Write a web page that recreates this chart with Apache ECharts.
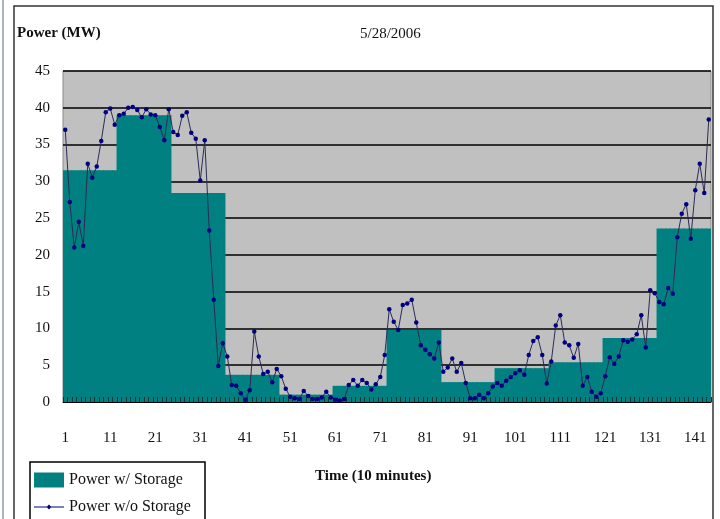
<!DOCTYPE html>
<html>
<head>
<meta charset="utf-8">
<script src="https://cdn.jsdelivr.net/npm/echarts@6/dist/echarts.min.js"></script>
<style>
html, body { margin: 0; padding: 0; background: #fff; }
#main { width: 720px; height: 519px; }
</style>
</head>
<body>
<div id="main"></div>
<script>
// time steps 1..144 (10 minutes each)
var steps = [];
for (var i = 1; i <= 144; i++) steps.push(String(i));

// 2-hour block values with storage (12 steps per block)
var storageBlocks = [31.5, 39, 28.4, 3.7, 1.0, 2.2, 9.8, 2.7, 4.6, 5.4, 8.7, 23.6];

// raw power without storage
var noStorage = [
    37, 27.2, 21, 24.5, 21.2, 32.4, 30.5, 32, 35.5, 39.4, 39.9, 37.7,
    39, 39.2, 40, 40.1, 39.7, 38.7, 39.8, 39.1, 39, 37.4, 35.6, 39.8,
    36.7, 36.3, 38.9, 39.4, 36.6, 35.8, 30.1, 35.6, 23.3, 13.9, 4.9, 8.0,
    6.2, 2.3, 2.2, 1.2, 0.3, 1.6, 9.6, 6.2, 3.8, 4.1, 2.7, 4.5,
    3.5, 1.8, 0.7, 0.5, 0.4, 1.5, 0.8, 0.4, 0.4, 0.6, 1.4, 0.6,
    0.3, 0.2, 0.4, 2.3, 3.0, 2.2, 3.0, 2.6, 1.7, 2.4, 3.4, 6.4,
    12.6, 10.9, 9.8, 13.2, 13.4, 13.9, 10.8, 7.7, 7.1, 6.5, 5.9, 8.1,
    4.1, 4.7, 5.9, 4.1, 5.3, 2.6, 0.5, 0.5, 1.0, 0.5, 1.2, 2.1,
    2.6, 2.2, 2.9, 3.4, 3.9, 4.3, 3.7, 6.4, 8.3, 8.8, 6.4, 2.5,
    5.5, 10.4, 11.8, 8.1, 7.7, 6.0, 7.9, 2.2, 3.4, 1.4, 0.7, 1.2,
    3.5, 6.1, 5.2, 6.2, 8.4, 8.2, 8.5, 9.2, 11.8, 7.4, 15.2, 14.8,
    13.6, 13.3, 15.5, 14.7, 22.4, 25.6, 26.9, 22.2, 28.8, 32.4, 28.4, 38.4
];

var withStorage = [];
for (var k = 0; k < steps.length; k++) {
    withStorage.push(storageBlocks[Math.floor(k / 12)]);
}

var serif = '"Liberation Serif", "DejaVu Serif", serif';

var myChart = echarts.init(document.getElementById('main'));

var option = {
    backgroundColor: '#fff',
    animation: false,
    textStyle: { fontFamily: serif },
    grid: {
        left: 63,
        right: 9,
        top: 71,
        bottom: 117,
        show: true,
        backgroundColor: '#c0c0c0',
        borderColor: '#8a8a8a',
        borderWidth: 1
    },
    graphic: [
        { type: 'line', shape: { x1: 3, y1: 0, x2: 3, y2: 519 }, style: { stroke: '#aab4c8', lineWidth: 2 } },
        { type: 'rect', shape: { x: 14, y: 6, width: 699, height: 520 }, style: { fill: null, stroke: '#333', lineWidth: 1.5 } },
        // legend frame (runs off the bottom edge like the source)
        { type: 'rect', shape: { x: 30, y: 462, width: 175, height: 70 }, style: { fill: null, stroke: '#000', lineWidth: 1.5 } },
        { type: 'text', left: 17, top: 26, style: { text: 'Power (MW)', font: 'bold 15px ' + serif, fill: '#111' } },
        { type: 'text', left: 360, top: 27, style: { text: '5/28/2006', font: '15px ' + serif, fill: '#111' } },
        { type: 'text', left: 315, top: 469, style: { text: 'Time (10 minutes)', font: 'bold 15px ' + serif, fill: '#111' } }
    ],
    legend: {
        orient: 'vertical',
        left: 30,
        top: 462,
        padding: [10, 6, 2, 4],
        itemGap: 11,
        itemWidth: 30,
        itemHeight: 15,
        textStyle: { fontFamily: serif, fontSize: 16, color: '#111' },
        data: [
            { name: 'Power w/ Storage', icon: 'rect' },
            {
                name: 'Power w/o Storage',
                icon: 'path://M0,7 L30,7 L30,8.2 L0,8.2 Z M12.6,7.6 L15,5.2 L17.4,7.6 L15,10 Z',
                itemStyle: { color: '#000080' }
            }
        ]
    },
    xAxis: {
        type: 'category',
        data: steps,
        boundaryGap: true,
        z: 5,
        axisLine: { lineStyle: { color: '#000', width: 1 } },
        axisTick: { show: true, interval: 0, inside: true, length: 5, lineStyle: { color: '#153535' } },
        axisLabel: { interval: 9, margin: 29, fontSize: 15, color: '#111', fontFamily: serif }
    },
    yAxis: {
        type: 'value',
        min: 0,
        max: 45,
        interval: 5,
        axisLine: { show: false },
        axisTick: { show: false },
        axisLabel: { fontSize: 15, color: '#111', margin: 13, fontFamily: serif },
        splitLine: { lineStyle: { color: '#000', width: 1.5 } }
    },
    series: [
        {
            name: 'Power w/ Storage',
            type: 'bar',
            data: withStorage,
            barWidth: 5.4,
            itemStyle: { color: '#008080' }
        },
        {
            name: 'Power w/o Storage',
            type: 'line',
            z: 6,
            data: noStorage,
            symbol: 'circle',
            symbolSize: 4.5,
            showAllSymbol: true,
            itemStyle: { color: '#000080' },
            lineStyle: { color: '#2b2b55', width: 1 }
        }
    ]
};

myChart.setOption(option);

window.onresize = function () {
    myChart.resize();
};
</script>
</body>
</html>
